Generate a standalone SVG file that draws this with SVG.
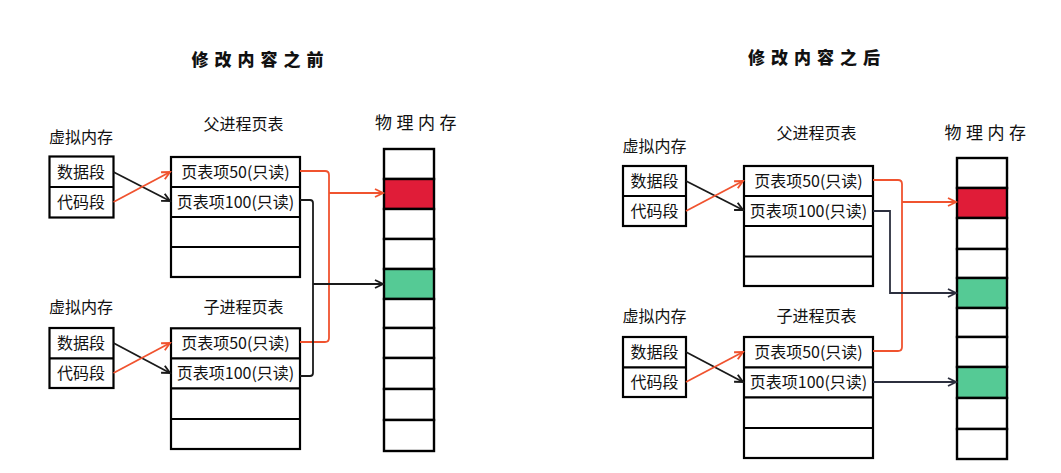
<svg xmlns="http://www.w3.org/2000/svg" width="1061" height="473" viewBox="0 0 1061 473">
<style>
text{font-family:"Noto Sans CJK SC","Noto Sans",sans-serif;fill:#111;}
.lbl{font-size:16px;text-anchor:middle;}
.title{font-size:17px;font-weight:900;letter-spacing:6px;text-anchor:middle;}
.phys{font-size:17px;letter-spacing:4.5px;text-anchor:middle;}
.box{fill:#fff;stroke:#000;stroke-width:2.2;}
.div{stroke:#000;stroke-width:2.2;}
.cell{fill:#fff;stroke:#000;stroke-width:2.4;}
.red{fill:#E01C38;}
.green{fill:#55CA95;}
.c-blk{fill:none;stroke:#1a1a1a;stroke-width:1.8;}
.c-org{fill:none;stroke:#F0532F;stroke-width:1.8;}
.c-nav{fill:none;stroke:#2C2F3E;stroke-width:1.8;}
</style>
<defs>
<marker id="aBlk" markerUnits="userSpaceOnUse" markerWidth="12" markerHeight="12" refX="9" refY="5" orient="auto"><path d="M1,1 L9,5 L1,9" fill="none" stroke="#1a1a1a" stroke-width="1.9"/></marker>
<marker id="aOrg" markerUnits="userSpaceOnUse" markerWidth="12" markerHeight="12" refX="9" refY="5" orient="auto"><path d="M1,1 L9,5 L1,9" fill="none" stroke="#F0532F" stroke-width="1.9"/></marker>
<marker id="aNav" markerUnits="userSpaceOnUse" markerWidth="12" markerHeight="12" refX="9" refY="5" orient="auto"><path d="M1,1 L9,5 L1,9" fill="none" stroke="#2C2F3E" stroke-width="1.9"/></marker>
</defs>
<rect width="1061" height="473" fill="#fff"/>

<!-- Titles -->
<g id="title-before"><text class="title" x="260.5" y="66">修改内容之前</text></g>
<g id="title-after"><text class="title" x="817" y="64">修改内容之后</text></g>

<!-- ===== Left (before) ===== -->
<g id="vm-parent-L">
<text class="lbl" x="81" y="142.5">虚拟内存</text>
<rect class="box" x="49.5" y="156.5" width="64" height="61"/>
<line class="div" x1="49.5" y1="187" x2="113.5" y2="187"/>
<text class="lbl" x="81" y="177.5">数据段</text>
<text class="lbl" x="81" y="207.5">代码段</text>
</g>
<g id="pt-parent-L">
<text class="lbl" x="243.5" y="129.5">父进程页表</text>
<rect class="box" x="171" y="157" width="129" height="120"/>
<line class="div" x1="171" y1="187" x2="300" y2="187"/>
<line class="div" x1="171" y1="217" x2="300" y2="217"/>
<line class="div" x1="171" y1="247" x2="300" y2="247"/>
<text class="lbl" x="235.5" y="177.5">页表项50(只读)</text>
<text class="lbl" x="235.5" y="207.5">页表项100(只读)</text>
</g>
<g id="vm-child-L">
<text class="lbl" x="81" y="313">虚拟内存</text>
<rect class="box" x="49.5" y="328" width="64" height="60"/>
<line class="div" x1="49.5" y1="358.3" x2="113.5" y2="358.3"/>
<text class="lbl" x="81" y="349">数据段</text>
<text class="lbl" x="81" y="379">代码段</text>
</g>
<g id="pt-child-L">
<text class="lbl" x="243.5" y="312.7">子进程页表</text>
<rect class="box" x="171" y="328.3" width="129" height="120.7"/>
<line class="div" x1="171" y1="358.3" x2="300" y2="358.3"/>
<line class="div" x1="171" y1="388.3" x2="300" y2="388.3"/>
<line class="div" x1="171" y1="419" x2="300" y2="419"/>
<text class="lbl" x="235.5" y="349">页表项50(只读)</text>
<text class="lbl" x="235.5" y="379">页表项100(只读)</text>
</g>
<g id="phys-L">
<text class="phys" x="418" y="129">物理内存</text>
<rect class="cell" x="384" y="149" width="50" height="30"/>
<rect class="cell red" x="384" y="179" width="50" height="30"/>
<rect class="cell" x="384" y="209" width="50" height="30"/>
<rect class="cell" x="384" y="239" width="50" height="30"/>
<rect class="cell green" x="384" y="269" width="50" height="30"/>
<rect class="cell" x="384" y="299" width="50" height="29"/>
<rect class="cell" x="384" y="328" width="50" height="30"/>
<rect class="cell" x="384" y="358" width="50" height="31"/>
<rect class="cell" x="384" y="389" width="50" height="31"/>
<rect class="cell" x="384" y="420" width="50" height="31"/>
</g>

<!-- ===== Right (after) ===== -->
<g id="vm-parent-R">
<text class="lbl" x="654.5" y="152">虚拟内存</text>
<rect class="box" x="623" y="166" width="63" height="60"/>
<line class="div" x1="623" y1="196" x2="686" y2="196"/>
<text class="lbl" x="654.5" y="187">数据段</text>
<text class="lbl" x="654.5" y="217">代码段</text>
</g>
<g id="pt-parent-R">
<text class="lbl" x="816.5" y="138.5">父进程页表</text>
<rect class="box" x="744" y="166" width="129" height="120"/>
<line class="div" x1="744" y1="196" x2="873" y2="196"/>
<line class="div" x1="744" y1="226" x2="873" y2="226"/>
<line class="div" x1="744" y1="256.5" x2="873" y2="256.5"/>
<text class="lbl" x="808.5" y="186.5">页表项50(只读)</text>
<text class="lbl" x="808.5" y="216.5">页表项100(只读)</text>
</g>
<g id="vm-child-R">
<text class="lbl" x="654.5" y="322">虚拟内存</text>
<rect class="box" x="623" y="337" width="63" height="60"/>
<line class="div" x1="623" y1="367.3" x2="686" y2="367.3"/>
<text class="lbl" x="654.5" y="358">数据段</text>
<text class="lbl" x="654.5" y="388">代码段</text>
</g>
<g id="pt-child-R">
<text class="lbl" x="816.5" y="322">子进程页表</text>
<rect class="box" x="744" y="337" width="129" height="121"/>
<line class="div" x1="744" y1="367.3" x2="873" y2="367.3"/>
<line class="div" x1="744" y1="397.3" x2="873" y2="397.3"/>
<line class="div" x1="744" y1="428" x2="873" y2="428"/>
<text class="lbl" x="808.5" y="358">页表项50(只读)</text>
<text class="lbl" x="808.5" y="388">页表项100(只读)</text>
</g>
<g id="phys-R">
<text class="phys" x="987.5" y="139">物理内存</text>
<rect class="cell" x="957" y="158" width="50" height="30"/>
<rect class="cell red" x="957" y="188" width="50" height="30"/>
<rect class="cell" x="957" y="218" width="50" height="31"/>
<rect class="cell" x="957" y="249" width="50" height="29"/>
<rect class="cell green" x="957" y="278" width="50" height="30"/>
<rect class="cell" x="957" y="308" width="50" height="29"/>
<rect class="cell" x="957" y="337" width="50" height="30"/>
<rect class="cell green" x="957" y="367" width="50" height="31"/>
<rect class="cell" x="957" y="398" width="50" height="31"/>
<rect class="cell" x="957" y="429" width="50" height="30"/>
</g>

<!-- ===== Connectors ===== -->
<g id="connectors">
<path class="c-blk" d="M113.5,172 L170,201" marker-end="url(#aBlk)"/>
<path class="c-org" d="M113.5,202 L170,172" marker-end="url(#aOrg)"/>
<path class="c-blk" d="M113.5,343 L170,373" marker-end="url(#aBlk)"/>
<path class="c-org" d="M113.5,373 L170,343" marker-end="url(#aOrg)"/>
<path class="c-org" d="M300,171 H325 Q329,171 329,175 V338 Q329,342 325,342 H300"/>
<path class="c-org" d="M329,193 H383" marker-end="url(#aOrg)"/>
<path class="c-blk" d="M300,200 H310 Q313,200 313,203 V373 Q313,376 310,376 H300"/>
<path class="c-blk" d="M313,284 H383" marker-end="url(#aBlk)"/>

<path class="c-blk" d="M686,181 L743,210" marker-end="url(#aBlk)"/>
<path class="c-org" d="M686,211 L743,181" marker-end="url(#aOrg)"/>
<path class="c-blk" d="M686,352 L743,382" marker-end="url(#aBlk)"/>
<path class="c-org" d="M686,382 L743,352" marker-end="url(#aOrg)"/>
<path class="c-org" d="M873,180 H898 Q902,180 902,184 V347 Q902,351 898,351 H873"/>
<path class="c-org" d="M902,202 H956" marker-end="url(#aOrg)"/>
<path class="c-nav" d="M873,211 H890 V293 H956" marker-end="url(#aNav)"/>
<path class="c-nav" d="M873,382 H956" marker-end="url(#aNav)"/>
</g>
</svg>
